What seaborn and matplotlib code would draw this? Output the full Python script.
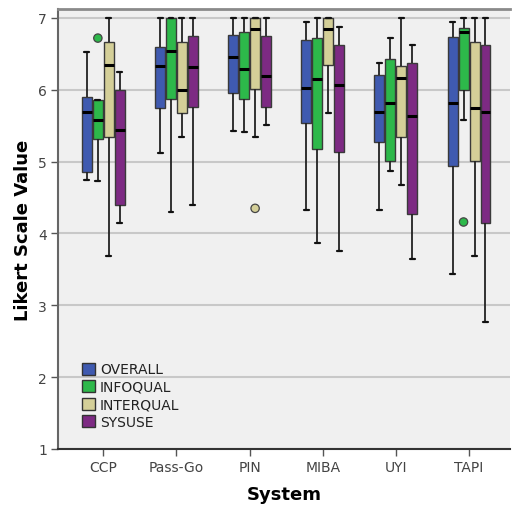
import numpy as np
import pandas as pd
import matplotlib
matplotlib.use("Agg")
import matplotlib.pyplot as plt
from matplotlib.patches import Patch
import seaborn as sns

# ---------------- data ----------------
systems = ["CCP", "Pass-Go", "PIN", "MIBA", "UYI", "TAPI"]
measures = ["OVERALL", "INFOQUAL", "INTERQUAL", "SYSUSE"]

# five-number summaries per measure, one value per system
overall_lo  = [4.75, 5.12, 5.43, 4.33, 4.33, 3.43]
overall_q1  = [4.86, 5.75, 5.95, 5.54, 5.27, 4.94]
overall_med = [5.69, 6.33, 6.45, 6.03, 5.69, 5.81]
overall_q3  = [5.90, 6.59, 6.76, 6.69, 6.21, 6.74]
overall_hi  = [6.52, 7.00, 7.00, 6.95, 6.38, 6.94]

infoqual_lo  = [4.73, 4.30, 5.41, 3.87, 4.87, 5.58]
infoqual_q1  = [5.31, 5.87, 5.87, 5.18, 5.01, 6.00]
infoqual_med = [5.58, 6.54, 6.29, 6.15, 5.81, 6.80]
infoqual_q3  = [5.86, 7.00, 6.80, 6.72, 6.43, 6.86]
infoqual_hi  = [5.86, 7.00, 7.00, 7.00, 6.72, 7.00]

interqual_lo  = [3.69, 5.34, 5.34, 5.68, 4.67, 3.68]
interqual_q1  = [5.35, 5.68, 6.01, 6.34, 5.34, 5.01]
interqual_med = [6.34, 6.00, 6.84, 6.84, 6.17, 5.75]
interqual_q3  = [6.66, 6.66, 7.00, 7.00, 6.33, 6.67]
interqual_hi  = [7.00, 7.00, 7.00, 7.00, 7.00, 7.00]

sysuse_lo  = [4.14, 4.39, 5.51, 3.76, 3.64, 2.77]
sysuse_q1  = [4.39, 5.76, 5.76, 5.14, 4.27, 4.14]
sysuse_med = [5.44, 6.32, 6.19, 6.07, 5.63, 5.69]
sysuse_q3  = [6.00, 6.75, 6.75, 6.63, 6.38, 6.63]
sysuse_hi  = [6.25, 7.00, 7.00, 6.88, 6.63, 7.00]

# outliers
outlier_system  = ["CCP", "PIN", "TAPI"]
outlier_measure = ["INFOQUAL", "INTERQUAL", "INFOQUAL"]
outlier_value   = [6.72, 4.35, 4.16]

colors = ["#3F5AB0", "#2DB84A", "#D4CF98", "#7D2A83"]

# ---------------- build long table ----------------
summaries = {
    "OVERALL":   [overall_lo, overall_q1, overall_med, overall_q3, overall_hi],
    "INFOQUAL":  [infoqual_lo, infoqual_q1, infoqual_med, infoqual_q3, infoqual_hi],
    "INTERQUAL": [interqual_lo, interqual_q1, interqual_med, interqual_q3, interqual_hi],
    "SYSUSE":    [sysuse_lo, sysuse_q1, sysuse_med, sysuse_q3, sysuse_hi],
}
rows = []
for m in measures:
    for i, s in enumerate(systems):
        for arr in summaries[m]:
            rows.append({"System": s, "Measure": m, "Value": arr[i]})
df = pd.DataFrame(rows)
palette = dict(zip(measures, colors))

# ---------------- plot ----------------
sns.set_theme(style="white")
plt.rcParams["font.family"] = ["DejaVu Sans"]

fig = plt.figure(figsize=(5.12, 5.06), dpi=100)
ax = fig.add_axes([58 / 512, 56 / 506, 452 / 512, 440 / 506])
ax.set_facecolor("#F0F0F0")

BOX_WIDTH = 0.6
sns.boxplot(
    data=df, x="System", y="Value", hue="Measure",
    order=systems, hue_order=measures, palette=palette,
    whis=(0, 100), width=BOX_WIDTH, gap=0.09, showfliers=False,
    saturation=1, linecolor="#3a3a3a", linewidth=1.0,
    medianprops=dict(color="black", linewidth=2.2),
    whiskerprops=dict(color="#222222", linewidth=1.3),
    capprops=dict(color="#111111", linewidth=1.6),
    legend=False, ax=ax,
)

# outliers at the dodged hue positions
n = len(measures)
each = BOX_WIDTH / n
offsets = {m: -BOX_WIDTH / 2 + each / 2 + k * each for k, m in enumerate(measures)}
ox = [systems.index(s) + offsets[m] for s, m in zip(outlier_system, outlier_measure)]
ax.scatter(ox, outlier_value, s=36, c=[palette[m] for m in outlier_measure],
           edgecolors="#444444", linewidths=0.9, zorder=5)

ax.set_xlim(-0.62, 5.56)
ax.set_ylim(1, 7.125)
ax.set_yticks([1, 2, 3, 4, 5, 6, 7])
ax.yaxis.grid(True, color="#C8C8C8", linewidth=1.5)
ax.set_axisbelow(True)

ax.spines["right"].set_visible(False)
ax.spines["left"].set_color("#666666")
ax.spines["left"].set_linewidth(1.5)
ax.spines["bottom"].set_color("#333333")
ax.spines["bottom"].set_linewidth(1.5)
ax.spines["top"].set_color("#8a8a8a")
ax.spines["top"].set_linewidth(2)

ax.tick_params(axis="both", bottom=True, left=True, length=5, width=1,
               color="#555555", direction="out", labelsize=10, labelcolor="#444444", pad=3)

ax.set_ylabel("Likert Scale Value", fontsize=13, fontweight="bold", color="black")
ax.set_xlabel("System", fontsize=13, fontweight="bold", color="black")
ax.yaxis.set_label_coords(-0.057, 0.5)
ax.xaxis.set_label_coords(0.5, -0.082)

handles = [Patch(facecolor=c, edgecolor="#333333", linewidth=1.0, label=m)
           for m, c in zip(measures, colors)]
ax.legend(handles=handles, loc="lower left", bbox_to_anchor=(0.053, 0.045),
          frameon=False, fontsize=10, handlelength=0.95, handleheight=0.95,
          handletextpad=0.35, labelspacing=0.26, borderpad=0, borderaxespad=0,
          labelcolor="#222222")

fig.savefig("out.png", dpi=100, facecolor="white")
